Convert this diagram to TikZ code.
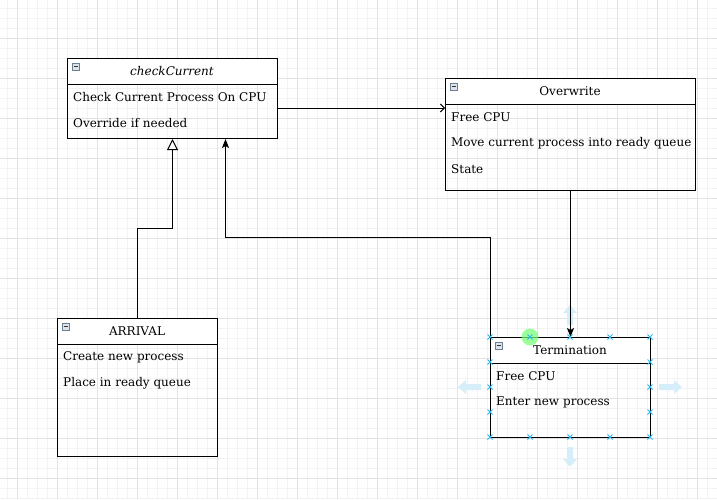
\documentclass[tikz,border=0pt]{standalone}
\usepackage{fontspec}
\setmainfont{DejaVu Serif}
\usetikzlibrary{arrows.meta,calc}
\definecolor{gridminor}{HTML}{F3F3F3}
\definecolor{gridmajor}{HTML}{E3E3E3}
\definecolor{hdl}{HTML}{29B6F2}
\definecolor{hintblue}{HTML}{D6EEFA}
\definecolor{icoline}{HTML}{6D7F93}
\definecolor{icofill}{HTML}{DCE3EA}
\tikzset{
  frame/.style={draw=black, line width=1pt, inner sep=0pt, anchor=north west},
  header/.style={draw=black, line width=1pt, fill=white},
  htext/.style={font=\fontsize{12}{14}\selectfont, inner sep=0pt, anchor=center},
  rtext/.style={font=\fontsize{12}{14}\selectfont, inner sep=0pt, anchor=west},
  conn/.style={draw=black, line width=1pt},
  filledarr/.style={conn, -{Stealth[length=9pt,width=7pt,inset=2pt]}},
  openarr/.style={conn, -{Straight Barb[length=4pt,width=8pt]}},
  inherit/.style={conn, -{Triangle[open,fill=white,length=11pt,width=11pt]}},
}
\newcommand{\classicon}[2]{%
  \draw[icoline, fill=icofill, line width=0.8pt] (#1,#2) rectangle ++(7,7);
  \draw[black!80, line width=1pt] (#1+1.5,#2+3.5) -- ++(4,0);
}
\newcommand{\hmark}[2]{%
  \draw[hdl, line width=0.8pt] (#1-2.5,#2-2.5) -- (#1+2.5,#2+2.5) (#1-2.5,#2+2.5) -- (#1+2.5,#2-2.5);
}
\begin{document}
\begin{tikzpicture}[x=1pt,y=-1pt]
\useasboundingbox (0,0) rectangle (717,499);
\fill[white] (0,0) rectangle (717,499);
% grid
\foreach \gx in {7,17,...,717} \draw[gridminor, line width=1pt] (\gx,0) -- (\gx,499);
\foreach \gy in {8,18,...,499} \draw[gridminor, line width=1pt] (0,\gy) -- (717,\gy);
\foreach \gx in {17,57,...,717} \draw[gridmajor, line width=1pt] (\gx,0) -- (\gx,499);
\foreach \gy in {38,78,...,499} \draw[gridmajor, line width=1pt] (0,\gy) -- (717,\gy);

% checkCurrent
\node[frame, minimum width=210, minimum height=80] (cc) at (67,58) {};
\draw[header] (67,58) rectangle (277,84);
\classicon{72}{63}
\node[htext] (cch) at (172,71.5) {\itshape checkCurrent};
\node[rtext] (cc1) at (73,97.5) {Check Current Process On CPU};
\node[rtext] (cc2) at (73,123.5) {Override if needed};

% Overwrite
\node[frame, minimum width=250, minimum height=112] (ow) at (445,78) {};
\draw[header] (445,78) rectangle (695,104);
\classicon{450}{83}
\node[htext] (owh) at (570,91.5) {Overwrite};
\node[rtext] (ow1) at (451,117.5) {Free CPU};
\node[rtext] (ow2) at (451,143.5) {Move current process into ready queue};
\node[rtext] (ow3) at (451,169.5) {State};

% ARRIVAL
\node[frame, minimum width=160, minimum height=138] (ar) at (57,318) {};
\draw[header] (57,318) rectangle (217,344);
\classicon{62}{323}
\node[htext] (arh) at (137,331.5) {ARRIVAL};
\node[rtext] (ar1) at (63,357.5) {Create new process};
\node[rtext] (ar2) at (63,383.5) {Place in ready queue};

% Termination
\node[frame, minimum width=160, minimum height=100] (tm) at (490,337) {};
\draw[header] (490,337) rectangle (650,363);
\classicon{495}{342}
\node[htext] (tmh) at (570,350.5) {Termination};
\node[rtext] (tm1) at (496,376.5) {Free CPU};
\node[rtext] (tm2) at (496,402.5) {Enter new process};

% connectors
\draw[openarr] ($(cc.north east)+(0,50)$) -- ($(ow.north west)+(0,30)$);
\draw[inherit] (ar.north) -- ++(0,-90) -| (cc.south);
\draw[filledarr] (tm.north west) -- ++(0,-100) -| ($(cc.south)+(53,0)$);

% hover hints
\fill[hintblue] (570,305) -- (577,313) -- (573,313) -- (573,325) -- (567,325) -- (567,313) -- (563,313) -- cycle;
\fill[hintblue] (570,467) -- (577,459) -- (573,459) -- (573,447) -- (567,447) -- (567,459) -- (563,459) -- cycle;
\fill[hintblue] (458,387) -- (466,380) -- (466,384) -- (481,384) -- (481,390) -- (466,390) -- (466,394) -- cycle;
\fill[hintblue] (682,387) -- (674,380) -- (674,384) -- (659,384) -- (659,390) -- (674,390) -- (674,394) -- cycle;
\fill[green!55!white, opacity=0.7] (530,337) circle (8.5);

\draw[filledarr] (ow.south) -- (tm.north);

\foreach \mx in {490,530,570,610,650} {\hmark{\mx}{337} \hmark{\mx}{437}}
\foreach \my in {362,387,412} {\hmark{490}{\my} \hmark{650}{\my}}
\end{tikzpicture}
\end{document}
